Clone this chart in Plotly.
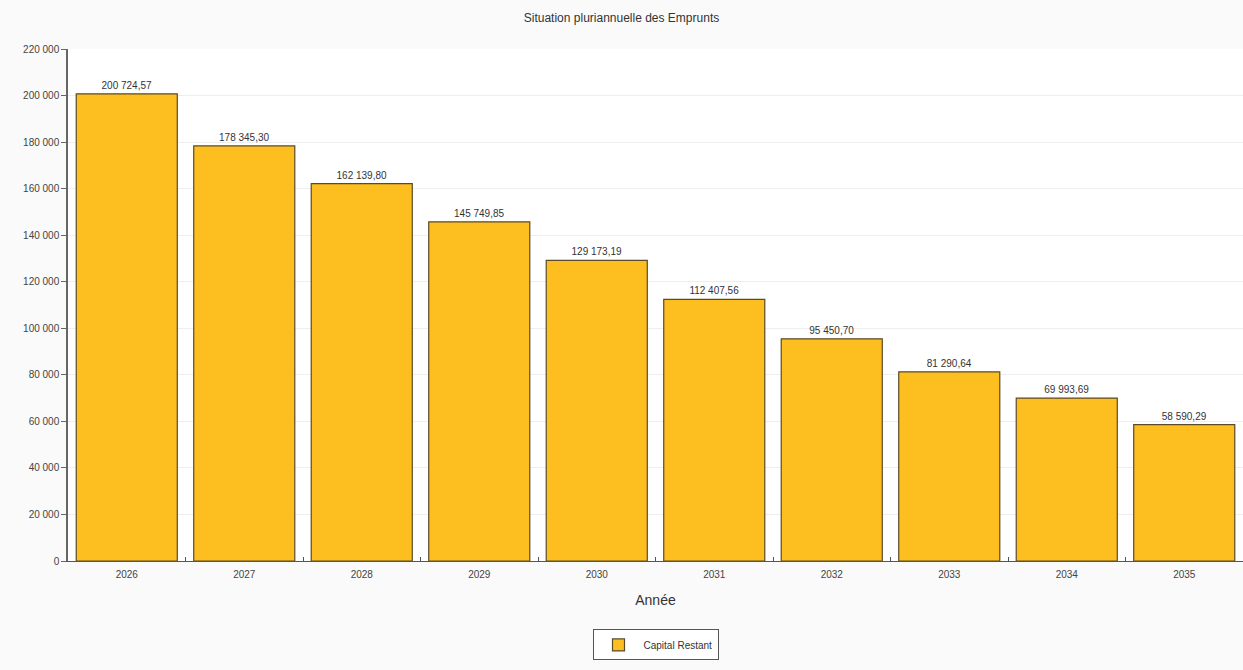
import plotly.graph_objects as go

annees = ["2026", "2027", "2028", "2029", "2030", "2031", "2032", "2033", "2034", "2035"]
capital_restant = [200724.57, 178345.30, 162139.80, 145749.85, 129173.19,
                   112407.56, 95450.70, 81290.64, 69993.69, 58590.29]
y_ticks = [0, 20000, 40000, 60000, 80000, 100000, 120000, 140000, 160000, 180000, 200000, 220000]

fig = go.Figure()
fig.add_trace(go.Bar(
    x=annees, y=capital_restant, name="Capital Restant",
    marker=dict(color="#FDBF1F", line=dict(color="#5b4a28", width=1.2)),
    texttemplate="%{y:,.2f}", textposition="outside",
    textfont=dict(size=10, color="#333333", family="Arial, Liberation Sans"),
    cliponaxis=False,
))

fig.update_layout(
    width=1243, height=670,
    separators=", ",
    margin=dict(l=68, r=0, t=49, b=109),
    paper_bgcolor="#fafafa", plot_bgcolor="#ffffff",
    bargap=0.14,
    font=dict(family="Arial, Liberation Sans", size=10, color="#444444"),
    title=dict(text="Situation pluriannuelle des Emprunts", x=0.5, xanchor="center",
               y=0.973, yanchor="middle", font=dict(size=12, color="#333333")),
    showlegend=True,
    legend=dict(orientation="h", x=0.5, xanchor="center", y=-0.164, yanchor="middle",
                bgcolor="#ffffff", bordercolor="#555555", borderwidth=1,
                font=dict(size=10, color="#333333"), itemwidth=40),
    xaxis=dict(type="category", range=[-0.5, 9.5],
               showline=True, linecolor="#555555", linewidth=1,
               ticks="inside", tickson="boundaries", ticklen=4, tickcolor="#555555",
               showgrid=False, ticklabelstandoff=4,
               title=dict(text="Année", font=dict(size=14, color="#333333"), standoff=16),
               tickfont=dict(size=10, color="#444444")),
    yaxis=dict(range=[0, 220000], tickvals=y_ticks, tickformat=",d",
               showline=True, linecolor="#666666", linewidth=1.5,
               ticks="outside", ticklen=5, tickcolor="#666666",
               gridcolor="#eeeeee", zeroline=False,
               tickfont=dict(size=10, color="#444444")),
)

fig.write_html("out.html", config={"displayModeBar": False},
               post_script="document.body.style.margin='0';document.body.style.background='#fafafa';")
